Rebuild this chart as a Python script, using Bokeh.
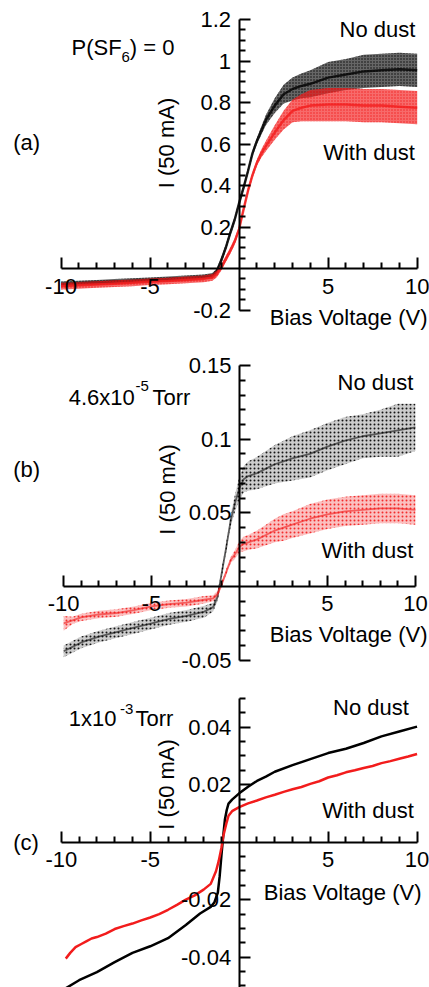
import numpy as np
from bokeh.plotting import figure
from bokeh.layouts import column
from bokeh.models import Label, FixedTicker, Range1d
from bokeh.embed import file_html
from bokeh.resources import INLINE

FONT = "Liberation Sans"
FS = "22px"
BLACK = "#000000"
RED = "#f21c1c"

# ---------------- data: panel (a)  P(SF6) = 0 ----------------
a_v = [-10, -9, -8, -7, -6, -5, -4, -3, -2, -1.5, -1.25, -1, -0.75, -0.5, -0.25, 0,
       0.25, 0.5, 0.75, 1, 1.25, 1.5, 2, 2.5, 3, 3.5, 4, 5, 6, 7, 8, 9, 10]
a_nodust = [-0.075, -0.071, -0.067, -0.063, -0.059, -0.055, -0.051, -0.046, -0.041, -0.034,
            -0.012, 0.04, 0.10, 0.17, 0.235, 0.315, 0.39, 0.47, 0.555, 0.615, 0.665, 0.715,
            0.785, 0.84, 0.865, 0.88, 0.89, 0.92, 0.935, 0.95, 0.955, 0.96, 0.955]
a_nodust_spread = [0.012] * 11 + [0.015] * 9 + [0.02, 0.025, 0.035, 0.045, 0.055, 0.06, 0.065,
                                                0.075, 0.075, 0.08, 0.08, 0.08, 0.08]
a_dust = [-0.085, -0.081, -0.077, -0.073, -0.069, -0.064, -0.060, -0.055, -0.050, -0.043,
          -0.026, 0.005, 0.045, 0.085, 0.13, 0.19, 0.285, 0.375, 0.45, 0.51, 0.555, 0.59,
          0.655, 0.715, 0.76, 0.775, 0.785, 0.79, 0.79, 0.785, 0.785, 0.78, 0.775]
a_dust_spread = [0.016] * 11 + [0.015] * 9 + [0.02, 0.025, 0.035, 0.045, 0.055, 0.065, 0.075,
                                              0.08, 0.08, 0.08, 0.08, 0.08, 0.08]

# ---------------- data: panel (b)  4.6x10^-5 Torr ----------------
b_v = [-10, -9.5, -9, -8, -7, -6, -5, -4, -3, -2, -1.5, -1.25, -1, -0.75, -0.5, -0.25, 0,
       0.25, 0.5, 1, 1.5, 2, 2.5, 3, 4, 5, 6, 7, 8, 9, 10]
b_nodust = [-0.044, -0.041, -0.038, -0.034, -0.031, -0.028, -0.025, -0.022, -0.020, -0.017,
            -0.014, -0.007, 0.010, 0.027, 0.045, 0.057, 0.067, 0.073, 0.075, 0.077, 0.080,
            0.083, 0.085, 0.087, 0.090, 0.095, 0.099, 0.102, 0.104, 0.106, 0.108]
b_nodust_spread = [0.004] * 10 + [0.003, 0.003, 0.003, 0.003, 0.004, 0.006, 0.008, 0.009, 0.010,
                                  0.011, 0.012, 0.013, 0.014, 0.015, 0.016, 0.016, 0.016, 0.015,
                                  0.016, 0.018, 0.016]
b_dust = [-0.025, -0.023, -0.021, -0.019, -0.018, -0.016, -0.0135, -0.012, -0.011, -0.009,
          -0.008, -0.005, 0.002, 0.010, 0.018, 0.022, 0.027, 0.029, 0.030, 0.032, 0.035,
          0.038, 0.040, 0.042, 0.046, 0.049, 0.051, 0.052, 0.053, 0.053, 0.052]
b_dust_spread = [0.005] + [0.0025] * 9 + [0.002] * 5 + [0.003, 0.004, 0.005, 0.005, 0.006, 0.007,
                                                        0.008, 0.009, 0.009, 0.010, 0.010, 0.010,
                                                        0.010, 0.010, 0.010, 0.010]

# ---------------- data: panel (c)  1x10^-3 Torr ----------------
c_v_nodust = [-9.75, -9, -8, -7, -6, -5, -4, -3, -2.2, -1.6, -1.4, -1.2, -1.1, -1.0, -0.9, -0.8,
              -0.7, -0.6, -0.4, 0, 0.5, 1, 1.5, 2, 3, 4, 5, 6, 7, 8, 9, 10]
c_nodust = [-0.0508, -0.048, -0.0452, -0.0417, -0.0385, -0.0362, -0.0334, -0.0288, -0.0248,
            -0.0225, -0.021, -0.0175, -0.012, -0.0047, 0.002, 0.008, 0.0112, 0.0134, 0.0148,
            0.017, 0.0193, 0.0213, 0.0228, 0.0245, 0.0268, 0.0289, 0.031, 0.0325, 0.0345,
            0.0368, 0.0385, 0.0402]
c_v_dust = [-9.75, -9.5, -9.2, -8.9, -8.6, -8.3, -8, -7.5, -7, -6.5, -6, -5.5, -5, -4.5, -4,
            -3.5, -3, -2.5, -2, -1.6, -1.3, -1.15, -1.0, -0.9, -0.8, -0.7, -0.6, -0.4, 0, 0.5,
            1, 1.5, 2, 2.5, 3, 3.5, 4, 4.5, 5, 5.5, 6, 6.5, 7, 7.5, 8, 8.5, 9, 9.5, 10]
c_dust = [-0.0405, -0.0385, -0.0365, -0.0355, -0.0345, -0.0335, -0.033, -0.0318, -0.0302,
          -0.0292, -0.0283, -0.0272, -0.0262, -0.025, -0.0235, -0.0218, -0.020, -0.0185,
          -0.0165, -0.0145, -0.010, -0.0065, -0.002, 0.002, 0.0045, 0.007, 0.0092, 0.0108,
          0.0122, 0.0135, 0.0145, 0.0156, 0.0165, 0.0175, 0.0184, 0.0192, 0.0203, 0.0212,
          0.0225, 0.0233, 0.0243, 0.025, 0.0258, 0.0265, 0.0275, 0.0282, 0.029, 0.0298, 0.0307]

# ---------------- ticks ----------------
x_ticks = [-10, -5, 5, 10]
x_tick_labels = ["-10", "-5", "5", "10"]
a_yticks = [-0.2, 0.2, 0.4, 0.6, 0.8, 1.0, 1.2]
a_ytick_labels = ["-0.2", "0.2", "0.4", "0.6", "0.8", "1", "1.2"]
b_yticks = [-0.05, 0.05, 0.1, 0.15]
b_ytick_labels = ["-0.05", "0.05", "0.1", "0.15"]
c_yticks = [-0.04, -0.02, 0.02, 0.04]
c_ytick_labels = ["-0.04", "-0.02", "0.02", "0.04"]


def make_fig(height, xr, yr, yticks, ylabels, ystep, ybounds):
    p = figure(width=429, height=height, x_range=Range1d(*xr), y_range=Range1d(*yr),
               output_backend="svg", toolbar_location=None, min_border=0,
               outline_line_color=None, background_fill_color="white",
               border_fill_color="white")
    p.grid.visible = False
    xa = p.xaxis[0]
    ya = p.yaxis[0]
    xminor = [v for v in range(-10, 11) if v % 5 != 0]
    xa.ticker = FixedTicker(ticks=x_ticks, minor_ticks=xminor)
    xa.major_label_overrides = {t: s for t, s in zip(x_ticks, x_tick_labels)}
    xa.bounds = (-10, 10)
    n = int(round((ybounds[1] - ybounds[0]) / ystep))
    yminor = [round(ybounds[0] + i * ystep, 6) for i in range(n + 1)]
    yminor = [v for v in yminor if all(abs(v - t) > 1e-9 for t in yticks) and abs(v) > 1e-9]
    ya.ticker = FixedTicker(ticks=yticks, minor_ticks=yminor)
    ya.major_label_overrides = {t: s for t, s in zip(yticks, ylabels)}
    ya.bounds = ybounds
    for ax in (xa, ya):
        ax.fixed_location = 0
        ax.axis_line_width = 2
        ax.axis_line_color = "black"
        ax.major_tick_line_width = 2
        ax.minor_tick_line_width = 2
        ax.major_tick_line_color = "black"
        ax.minor_tick_line_color = "black"
        ax.major_tick_in = 11
        ax.major_tick_out = 0
        ax.minor_tick_in = 6
        ax.minor_tick_out = 0
        ax.major_label_text_font = FONT
        ax.major_label_text_font_size = FS
        ax.major_label_text_color = "black"
    xa.major_label_standoff = 10
    ya.major_label_standoff = 8
    return p


def band(p, x, mid, spread, color, alpha, hscale, lw, lalpha):
    m = np.asarray(mid)
    s = np.asarray(spread)
    p.varea(x=x, y1=m - s, y2=m + s, fill_color=color, fill_alpha=alpha,
            hatch_pattern="dot", hatch_color=color, hatch_scale=hscale, hatch_weight=1.5,
            hatch_alpha=0.9)
    p.line(x, mid, line_color=color, line_width=lw, line_alpha=lalpha)


def txt(p, x, y, s, size=FS, align="left", baseline="alphabetic", angle=0.0):
    p.add_layout(Label(x=x, y=y, text=s, text_font=FONT, text_font_size=size,
                       text_align=align, text_baseline=baseline, angle=angle,
                       text_color="black"))


# ---------------- panel (a) ----------------
pa = make_fig(338, (-13.397, 10.69), (-0.3373, 1.2916), a_yticks, a_ytick_labels, 0.05, (-0.2, 1.2))
band(pa, a_v, a_nodust, a_nodust_spread, BLACK, 0.6, 3, 2.5, 0.8)
band(pa, a_v, a_dust, a_dust_spread, RED, 0.65, 3, 2.5, 0.8)
txt(pa, -9.41, 1.0675, "P(SF")
txt(pa, -6.6, 1.018, "6", size="15px")
txt(pa, -6.14, 1.0675, ") = 0")
txt(pa, 9.9, 1.151, "No dust", align="right")
txt(pa, 9.87, 0.558, "With dust", align="right")
txt(pa, -12.68, 0.609, "(a)", baseline="middle")
txt(pa, -4.09, 0.605, "I (50 mA)", align="center", baseline="middle", angle=np.pi / 2)
txt(pa, 1.72, -0.235, "Bias Voltage (V)")

# ---------------- panel (b) ----------------
pb = make_fig(337, (-13.59, 10.80), (-0.06042, 0.16836), b_yticks, b_ytick_labels, 0.01, (-0.05, 0.15))
band(pb, b_v, b_nodust, b_nodust_spread, BLACK, 0.2, 4, 1.8, 0.55)
band(pb, b_v, b_dust, b_dust_spread, RED, 0.28, 4, 1.8, 0.6)
txt(pb, -9.71, 0.1283, "4.6x10")
txt(pb, -5.91, 0.1358, "-5", size="15px")
txt(pb, -4.95, 0.1283, "Torr")
txt(pb, 9.88, 0.1383, "No dust", align="right")
txt(pb, 9.88, 0.0244, "With dust", align="right")
txt(pb, -12.87, 0.0792, "(b)", baseline="middle")
txt(pb, -4.11, 0.0659, "I (50 mA)", align="center", baseline="middle", angle=np.pi / 2)
txt(pb, 1.72, -0.0328, "Bias Voltage (V)")

# ---------------- panel (c) ----------------
pc = make_fig(312, (-13.42, 10.70), (-0.05054, 0.05798), c_yticks, c_ytick_labels, 0.005, (-0.055, 0.05))
pc.line(c_v_nodust, c_nodust, line_color=BLACK, line_width=2.5)
pc.line(c_v_dust, c_dust, line_color=RED, line_width=2.5)
txt(pc, -9.58, 0.0429, "1x10")
txt(pc, -6.7, 0.0465, "-3", size="15px")
txt(pc, -5.83, 0.0429, "Torr")
txt(pc, 9.54, 0.04696, "No dust", align="right")
txt(pc, 9.82, 0.0110, "With dust", align="right")
txt(pc, -12.71, 0.0, "(c)", baseline="middle")
txt(pc, -4.10, 0.0201, "I (50 mA)", align="center", baseline="middle", angle=np.pi / 2)
txt(pc, 1.38, -0.0174, "Bias Voltage (V)")

layout = column(pa, pb, pc, spacing=0)
open("out.html", "w").write(file_html(layout, INLINE))
